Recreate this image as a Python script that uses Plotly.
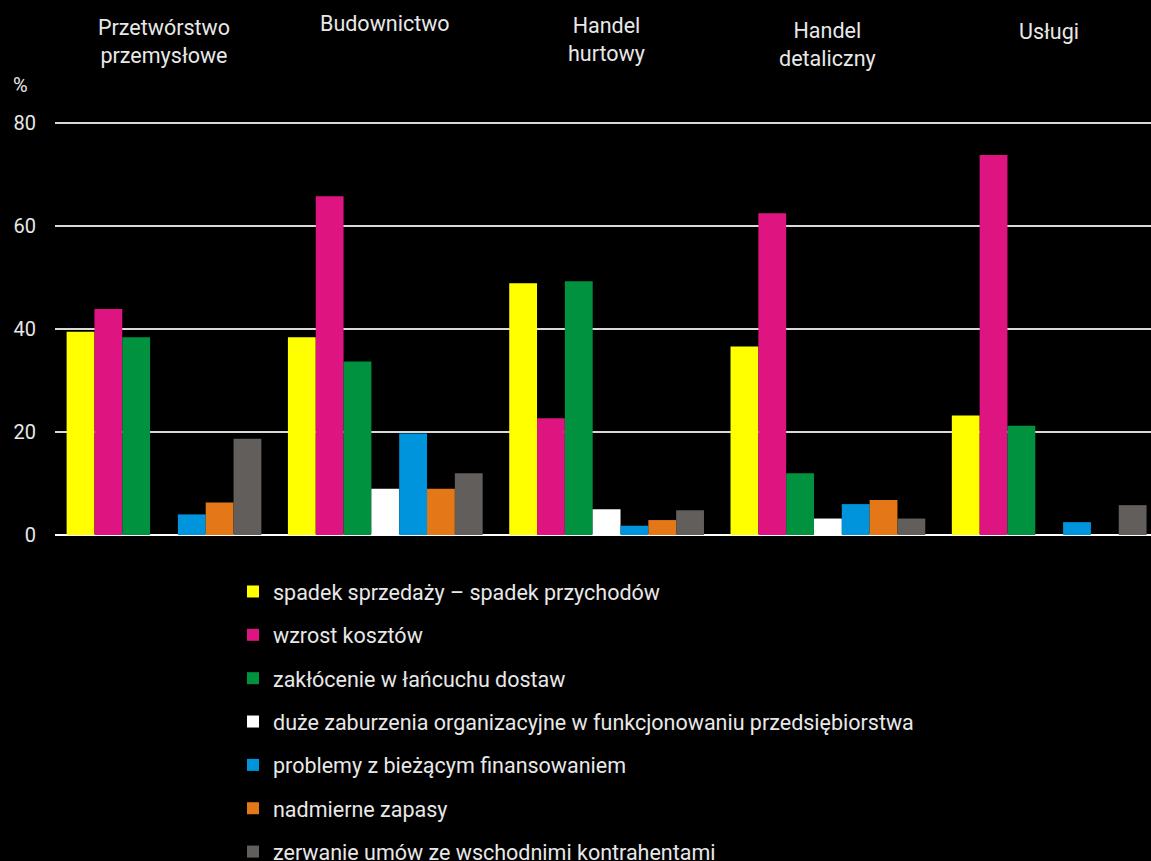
import plotly.graph_objects as go

categories = ["Przetwórstwo<br>przemysłowe", "Budownictwo", "Handel<br>hurtowy", "Handel<br>detaliczny", "Usługi"]
series_names = [
    "spadek sprzedaży – spadek przychodów",
    "wzrost kosztów",
    "zakłócenie w łańcuchu dostaw",
    "duże zaburzenia organizacyjne w funkcjonowaniu przedsiębiorstwa",
    "problemy z bieżącym finansowaniem",
    "nadmierne zapasy",
    "zerwanie umów ze wschodnimi kontrahentami",
]
spadek_sprzedazy = [39.5, 38.4, 48.9, 36.6, 23.2]
wzrost_kosztow = [43.9, 65.8, 22.7, 62.5, 73.8]
zaklocenie_dostaw = [38.4, 33.7, 49.3, 12.0, 21.2]
zaburzenia_org = [0.0, 9.0, 5.0, 3.2, 0.0]
problemy_finans = [4.0, 19.7, 1.8, 6.0, 2.5]
nadmierne_zapasy = [6.3, 9.0, 2.9, 6.8, 0.0]
zerwanie_umow = [18.7, 12.0, 4.8, 3.2, 5.8]
y_ticks = [0, 20, 40, 60, 80]

values = [spadek_sprzedazy, wzrost_kosztow, zaklocenie_dostaw, zaburzenia_org,
          problemy_finans, nadmierne_zapasy, zerwanie_umow]
colors = ["#FFFF00", "#DE1480", "#00923F", "#FFFFFF", "#0094DD", "#E47818", "#625E5C"]

FONT = "Roboto, Open Sans, sans-serif"
TXT = "#E8E8E8"

x = list(range(len(categories)))
fig = go.Figure()
for i, (name, vals, col) in enumerate(zip(series_names, values, colors)):
    fig.add_trace(go.Bar(x=x, y=vals, name=name, marker_color=col,
                         marker_line_width=0, legendgroup=f"g{i}"))

# plot geometry
W, HT = 1151, 861
L, T, B = 55, 118, 326
H = HT - T - B
def py(pix):
    return (HT - B - pix) / H

label_centers = [41, 23, 39, 44, 32]
annotations = []
for xi, lab, c in zip(x, categories, label_centers):
    annotations.append(dict(x=xi, y=py(c), xref="x", yref="paper", text=lab,
                            showarrow=False, xanchor="center", yanchor="middle",
                            font=dict(family=FONT, size=21.5, color=TXT)))
annotations.append(dict(x=(20 - L) / (W - L), y=py(85), xref="paper", yref="paper",
                        text="%", showarrow=False, xanchor="center", yanchor="middle",
                        font=dict(family=FONT, size=20, color=TXT)))

fig.update_layout(
    width=W, height=HT,
    paper_bgcolor="#000000", plot_bgcolor="#000000",
    margin=dict(l=L, r=0, t=T, b=B),
    barmode="group", bargap=0.12, bargroupgap=0,
    font=dict(family=FONT, size=20, color=TXT),
    xaxis=dict(range=[-0.4925, 4.46], showticklabels=False, showgrid=False,
               zeroline=False, showline=False, ticks=""),
    yaxis=dict(range=[0, 81], tickvals=y_ticks, showgrid=True, gridcolor="#D9D9D9",
               gridwidth=1.5, zeroline=True, zerolinecolor="#FFFFFF", zerolinewidth=2,
               showline=False, ticks="", ticklabelstandoff=18,
               tickfont=dict(family=FONT, size=20, color=TXT)),
    legend=dict(x=(233 - L) / (W - L), xref="paper", xanchor="left",
                y=1 - 571 / HT, yref="container", yanchor="top",
                orientation="v", traceorder="grouped", tracegroupgap=12.4,
                font=dict(family=FONT, size=21.5, color=TXT), bgcolor="rgba(0,0,0,0)",
                itemwidth=30),
    annotations=annotations,
    showlegend=True,
)

fig.write_html(
    "out.html",
    config={"displayModeBar": False},
    post_script="document.body.style.margin='0';document.body.style.overflow='hidden';"
                "document.body.style.background='#000';",
)
